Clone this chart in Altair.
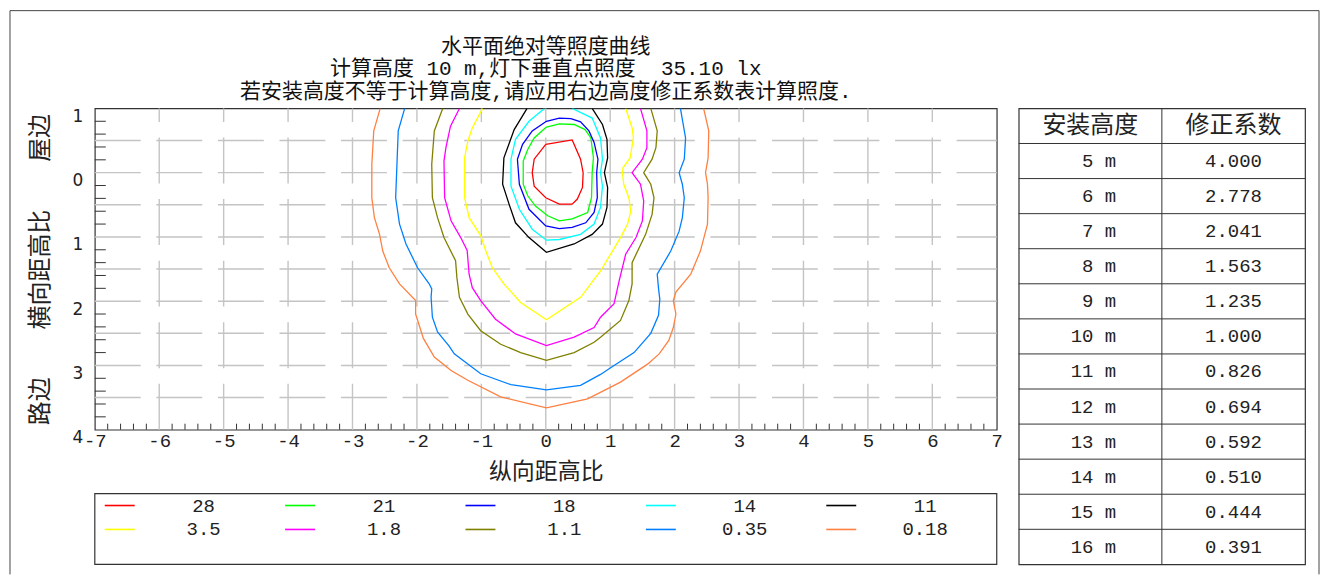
import altair as alt
import pandas as pd

# ---------------- data ----------------
levels = ["28", "21", "18", "14", "11", "3.5", "1.8", "1.1", "0.35", "0.18"]
level_colors = ["#FF0000", "#00FF00", "#0000FF", "#00FFFF", "#000000",
                "#FFFF00", "#FF00FF", "#808000", "#0080FF", "#FF8040"]

c28_x = [0, 0.41, 0.54, 0.58, 0.57, 0.49, 0.41, 0.21, 0, -0.18, -0.21, -0.18, 0]
c28_y = [-0.44, -0.51, -0.21, 0, 0.23, 0.41, 0.49, 0.49, 0.39, 0.21, 0, -0.21, -0.44]

c21_x = [0.01, 0.21, 0.44, 0.61, 0.70, 0.74, 0.72, 0.71, 0.65, 0.41, 0.21, 0.03, -0.16, -0.28, -0.35, -0.35, -0.28, -0.18, 0.01]
c21_y = [-0.71, -0.76, -0.75, -0.67, -0.54, -0.23, 0, 0.39, 0.62, 0.72, 0.75, 0.67, 0.52, 0.36, 0.18, -0.18, -0.36, -0.54, -0.71]

c18_x = [-0.44, -0.41, -0.26, 0, 0.21, 0.41, 0.62, 0.75, 0.80, 0.79, 0.81, 0.75, 0.67, 0.54, 0.39, 0.21, 0.01, -0.21, -0.36, -0.44]
c18_y = [-0.21, 0.18, 0.57, 0.83, 0.87, 0.85, 0.78, 0.62, 0.39, 0, -0.21, -0.47, -0.65, -0.79, -0.84, -0.85, -0.80, -0.65, -0.44, -0.21]

c14_x = [-0.02, -0.26, -0.47, -0.54, -0.54, -0.41, -0.21, 0.01, 0.21, 0.54, 0.75, 0.85, 0.88, 0.85, 0.88, 0.85, 0.72, 0.41]
c14_y = [-1.0, -0.80, -0.52, -0.21, 0.21, 0.57, 0.88, 1.05, 1.04, 0.96, 0.80, 0.54, 0.21, 0, -0.21, -0.54, -0.85, -1.0]

c11_x = [-0.29, -0.49, -0.65, -0.67, -0.57, -0.47, -0.26, 0.01, 0.44, 0.72, 0.88, 0.95, 0.96, 0.91, 0.96, 0.95, 0.88, 0.72]
c11_y = [-1.0, -0.67, -0.23, 0.18, 0.49, 0.78, 1.01, 1.24, 1.11, 0.96, 0.80, 0.54, 0.23, 0, -0.23, -0.52, -0.75, -1.0]

c35_x = [-0.98, -1.14, -1.21, -1.26, -1.26, -1.19, -1.01, -0.93, -0.83, -0.65, -0.39, 0.01, 0.54, 0.85, 1.16, 1.27, 1.32, 1.29, 1.21, 1.19, 1.20, 1.31, 1.36, 1.34, 1.24]
c35_y = [-1.0, -0.70, -0.49, -0.23, 0.39, 0.70, 0.98, 1.22, 1.48, 1.73, 2.02, 2.29, 1.94, 1.53, 1.01, 0.80, 0.60, 0.39, 0.18, 0, -0.08, -0.23, -0.54, -0.70, -1.0]

c18b_x = [-1.34, -1.48, -1.55, -1.58, -1.57, -1.47, -1.32, -1.22, -1.19, -1.14, -1.01, -0.78, -0.47, 0.01,
          0.44, 0.75, 0.85, 1.06, 1.14, 1.24, 1.40, 1.50, 1.52, 1.47, 1.34, 1.50, 1.57, 1.57, 1.47]
c18b_y = [-1.0, -0.72, -0.39, -0.18, 0.39, 0.75, 1.01, 1.21, 1.58, 1.79, 1.99, 2.28, 2.51, 2.69,
          2.56, 2.41, 2.25, 2.04, 1.68, 1.27, 1.01, 0.75, 0.44, 0.18, 0, -0.21, -0.39, -0.65, -1.0]

c11b_x = [-1.60, -1.73, -1.77, -1.76, -1.68, -1.58, -1.40, -1.38, -1.34, -1.21, -1.01, -0.70, -0.39, 0.01,
          0.44, 0.75, 0.85, 1.16, 1.29, 1.34, 1.34, 1.55, 1.65, 1.68, 1.63, 1.52, 1.65, 1.71, 1.73, 1.63]
c11b_y = [-1.0, -0.65, -0.13, 0.39, 0.70, 1.01, 1.37, 1.63, 1.94, 2.20, 2.46, 2.67, 2.80, 2.92,
          2.80, 2.64, 2.56, 2.30, 1.99, 1.73, 1.40, 0.96, 0.65, 0.39, 0.18, 0, -0.21, -0.39, -0.65, -1.0]

c035_x = [-2.19, -2.29, -2.31, -2.33, -2.27, -2.17, -1.99, -1.81, -1.77, -1.78, -1.76, -1.68, -1.50, -1.42, -1.01, -0.54, 0.01,
          0.54, 0.85, 1.06, 1.37, 1.63, 1.75, 1.77, 1.75, 1.73, 1.94, 2.07, 2.12, 2.15, 2.12, 2.07, 2.15, 2.17, 2.09]
c035_y = [-1.0, -0.65, -0.13, 0.39, 0.80, 1.11, 1.48, 1.73, 1.81, 1.94, 2.25, 2.48, 2.70, 2.82, 3.13, 3.30, 3.38,
          3.31, 3.14, 3.00, 2.80, 2.50, 2.22, 1.97, 1.80, 1.58, 1.22, 0.91, 0.70, 0.39, 0.18, 0, -0.21, -0.54, -1.0]

c018_x = [-2.57, -2.67, -2.70, -2.70, -2.66, -2.58, -2.53, -2.43, -2.27, -2.02, -2.02, -1.90, -1.73, -1.47, -1.21, -0.70, 0.01,
          0.65, 1.16, 1.58, 1.76, 1.91, 1.98, 2.02, 1.98, 2.02, 2.25, 2.40, 2.51, 2.52, 2.51, 2.48, 2.52, 2.53, 2.45]
c018_y = [-1.0, -0.65, -0.13, 0.39, 0.70, 0.96, 1.22, 1.48, 1.73, 1.99, 2.20, 2.58, 2.87, 3.08, 3.23, 3.49, 3.66,
          3.52, 3.26, 2.98, 2.82, 2.61, 2.41, 2.20, 1.99, 1.86, 1.58, 1.22, 0.80, 0.39, 0.18, 0, -0.23, -0.65, -1.0]

contour_xs = [c28_x, c21_x, c18_x, c14_x, c11_x, c35_x, c18b_x, c11b_x, c035_x, c018_x]
contour_ys = [c28_y, c21_y, c18_y, c14_y, c11_y, c35_y, c18b_y, c11b_y, c035_y, c018_y]

legend_cols = [0, 1, 2, 3, 4, 0, 1, 2, 3, 4]
legend_rows = [0, 0, 0, 0, 0, 1, 1, 1, 1, 1]

install_heights = [5, 6, 7, 8, 9, 10, 11, 12, 13, 14, 15, 16]
factors = [4.000, 2.778, 2.041, 1.563, 1.235, 1.000, 0.826, 0.694, 0.592, 0.510, 0.444, 0.391]
table_headers = ["安装高度", "修正系数"]

x_tick_values = [-7, -6, -5, -4, -3, -2, -1, 0, 1, 2, 3, 4, 5, 6, 7]
y_tick_values = [-1, 0, 1, 2, 3, 4]
h_grid = [-0.5, 0, 0.5, 1, 1.5, 2, 2.5, 3, 3.5]
v_grid = [-6, -5, -4, -3, -2, -1, 0, 1, 2, 3, 4, 5, 6]

title_lines = ["水平面绝对等照度曲线",
               "计算高度 10 m,灯下垂直点照度\u00a0\u00a035.10 lx",
               "若安装高度不等于计算高度,请应用右边高度修正系数表计算照度."]

# ---------------- tables ----------------
rows = []
for lv, xs, ys in zip(levels, contour_xs, contour_ys):
    for i, (x, y) in enumerate(zip(xs, ys)):
        rows.append({"level": lv, "i": i, "x": x, "y": y})
cdf = pd.DataFrame(rows)

minor_y = [round(-1 + 0.2 * k, 2) for k in range(1, 25) if k % 5 != 0]
minor_x = [round(-7 + 0.2 * k, 2) for k in range(1, 70) if k % 5 != 0]

MONO = "Liberation Mono"
CJK = "Noto Sans CJK SC"
W, H = 904, 322

xsc = alt.Scale(domain=[-7, 7], nice=False, zero=False)
ysc = alt.Scale(domain=[-1, 4], nice=False, zero=False, reverse=True)
csc = alt.Scale(domain=levels, range=level_colors)

xax = alt.Axis(values=x_tick_values,
               labelExpr="datum.value < 0 ? '-' + abs(datum.value) : '' + datum.value",
               labelFont=MONO, labelFontSize=19, labelColor="#222",
               labelFlush=False, labelOverlap=False, labelPadding=2, labelBaseline="top",
               ticks=False, domain=False, grid=False,
               title="纵向距高比", titleFont=CJK, titleFontSize=23, titleFontWeight="normal",
               titleColor="#222", titleX=452, titleY=42, titleBaseline="middle", titleAlign="center")
yax = alt.Axis(values=y_tick_values, labelExpr="'' + abs(datum.value)",
               labelFont="DejaVu Sans", labelFontSize=17, labelColor="#222",
               labelBaseline="top", labelAlign="right", labelPadding=12, labelOverlap=False,
               ticks=False, domain=False, grid=False,
               title="路边\u3000\u3000横向距高比\u3000\u3000屋边", titleFont=CJK, titleFontSize=24,
               titleFontWeight="normal", titleColor="#222", titleAngle=270,
               titleX=-54, titleY=161, titleBaseline="middle", titleAlign="center")

hgrid_df = pd.DataFrame({"y": h_grid, "x0": -7, "x1": 7})
vgrid_df = pd.DataFrame({"x": v_grid, "y0": 4, "y1": -1})

hgrid = alt.Chart(hgrid_df).mark_rule(color="#c4c4c4", strokeWidth=1.4, strokeDash=[46, 15.7]).encode(
    x=alt.X("x0:Q", scale=xsc, axis=xax), x2="x1:Q", y=alt.Y("y:Q", scale=ysc, axis=yax))
vgrid = alt.Chart(vgrid_df).mark_rule(color="#c4c4c4", strokeWidth=1.4, strokeDash=[46, 15.7]).encode(
    x=alt.X("x:Q", scale=xsc, axis=xax), y=alt.Y("y0:Q", scale=ysc, axis=yax), y2="y1:Q")
yticks = alt.Chart(pd.DataFrame({"t": minor_y})).mark_rule(color="#333", strokeWidth=1).encode(
    x=alt.value(0), x2=alt.value(11), y=alt.Y("t:Q", scale=ysc, axis=yax))
xticks = alt.Chart(pd.DataFrame({"t": minor_x})).mark_rule(color="#333", strokeWidth=1).encode(
    x=alt.X("t:Q", scale=xsc, axis=xax), y=alt.value(H), y2=alt.value(H - 6))
contours = alt.Chart(cdf).mark_line(strokeWidth=1.3, clip=True).encode(
    x=alt.X("x:Q", scale=xsc, axis=xax), y=alt.Y("y:Q", scale=ysc, axis=yax),
    color=alt.Color("level:N", scale=csc, legend=None), order=alt.Order("i:Q"))

plot = alt.layer(hgrid, vgrid, yticks, xticks, contours)

# legend (drawn below the plot with its own scales)
leg_df = pd.DataFrame({"level": levels, "col": legend_cols, "row": legend_rows})
lxs = alt.Scale(domain=[0, 5], nice=False, zero=False)
lys = alt.Scale(domain=[-0.5, 2.458], nice=False, zero=False, range=[386, 457])
legbox = alt.Chart(pd.DataFrame({"a": [0], "b": [5], "c": [-0.5], "d": [2.458]})).mark_rect(
    fillOpacity=0, stroke="#333", strokeWidth=1.2).encode(
    x=alt.X("a:Q", scale=lxs, axis=None), x2="b:Q", y=alt.Y("c:Q", scale=lys, axis=None), y2="d:Q")
leglines = alt.Chart(leg_df).transform_calculate(a="datum.col + 0.055", b="datum.col + 0.221").mark_rule(
    strokeWidth=1.6).encode(
    x=alt.X("a:Q", scale=lxs, axis=None), x2="b:Q", y=alt.Y("row:Q", scale=lys, axis=None),
    color=alt.Color("level:N", scale=csc, legend=None))
leglabels = alt.Chart(leg_df).transform_calculate(c="datum.col + 0.603").mark_text(
    font=MONO, fontSize=19, color="#222").encode(
    x=alt.X("c:Q", scale=lxs, axis=None), y=alt.Y("row:Q", scale=lys, axis=None), text="level:N")
legend_part = alt.layer(legbox, leglines, leglabels)

main = alt.layer(plot, legend_part).resolve_scale(x="independent", y="independent").properties(
    width=W, height=H,
    title=alt.TitleParams(text=title_lines, anchor="middle", frame="group", font=MONO + ", " + CJK,
                          fontSize=21, fontWeight="normal", color="#111", lineHeight=23, offset=5))

# ---------------- correction table ----------------
tdf = pd.DataFrame({"h": install_heights, "f": factors, "row": list(range(1, 13))})
txs = alt.Scale(domain=[0, 2], nice=False, zero=False)
tys = alt.Scale(domain=[0, 13], nice=False, zero=False, reverse=True)

# outer page frame (top, left, right edges)
frame_top = alt.Chart(pd.DataFrame({"a": [0]})).mark_rule(color="#444", strokeWidth=1).encode(
    x=alt.value(-1011), x2=alt.value(301), y=alt.value(-98))
frame_left = alt.Chart(pd.DataFrame({"a": [0]})).mark_rule(color="#444", strokeWidth=1).encode(
    x=alt.value(-1011), y=alt.value(-98), y2=alt.value(467))
frame_right = alt.Chart(pd.DataFrame({"a": [0]})).mark_rule(color="#444", strokeWidth=1).encode(
    x=alt.value(301), y=alt.value(-98), y2=alt.value(467))

hl = alt.Chart(pd.DataFrame({"y": list(range(1, 13)), "x0": 0, "x1": 2})).mark_rule(color="#333", strokeWidth=1).encode(
    x=alt.X("x0:Q", scale=txs, axis=None), x2="x1:Q", y=alt.Y("y:Q", scale=tys, axis=None))
vl = alt.Chart(pd.DataFrame({"x": [1], "y0": [0], "y1": [13]})).mark_rule(color="#333", strokeWidth=1).encode(
    x=alt.X("x:Q", scale=txs, axis=None), y=alt.Y("y0:Q", scale=tys, axis=None), y2="y1:Q")
hdr = alt.Chart(pd.DataFrame({"t": table_headers, "x": [0.5, 1.5], "y": [0.5, 0.5]})).mark_text(
    font=CJK, fontSize=24, color="#222").encode(
    x=alt.X("x:Q", scale=txs, axis=None), y=alt.Y("y:Q", scale=tys, axis=None), text="t:N")
htxt = alt.Chart(tdf).transform_calculate(lbl="datum.h + ' m'", xc="0.5", yc="datum.row + 0.5").mark_text(
    font=MONO, fontSize=19, color="#222", align="right", dx=26).encode(
    x=alt.X("xc:Q", scale=txs, axis=None), y=alt.Y("yc:Q", scale=tys, axis=None), text="lbl:N")
ftxt = alt.Chart(tdf).transform_calculate(xc="1.5", yc="datum.row + 0.5").mark_text(
    font=MONO, fontSize=19, color="#222").encode(
    x=alt.X("xc:Q", scale=txs, axis=None), y=alt.Y("yc:Q", scale=tys, axis=None),
    text=alt.Text("f:Q", format=".3f"))

table = alt.layer(frame_top, frame_left, frame_right, hl, vl, hdr, htxt, ftxt).properties(width=287, height=457)

chart = alt.hconcat(main, table, spacing=22, bounds="flush").properties(padding=0).configure_view(
    stroke="#333", strokeWidth=1.2)

chart.save("out.html", embed_options={"renderer": "svg", "actions": False})
